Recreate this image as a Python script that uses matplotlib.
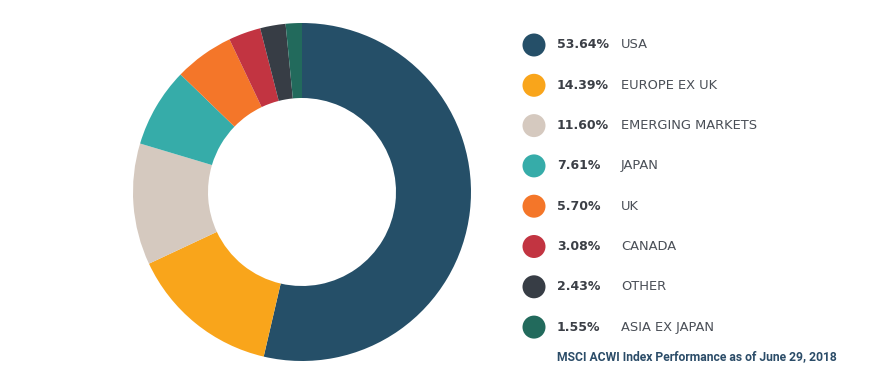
import matplotlib
matplotlib.use("Agg")
import matplotlib.pyplot as plt

categories = ["USA", "EUROPE EX UK", "EMERGING MARKETS", "JAPAN", "UK", "CANADA", "OTHER", "ASIA EX JAPAN"]
values = [53.64, 14.39, 11.60, 7.61, 5.70, 3.08, 2.43, 1.55]
colors = ["#254f68", "#f9a51b", "#d5c9bf", "#36aca9", "#f47629", "#c23441", "#373d45", "#226a5c"]
footnote = "MSCI ACWI Index Performance as of June 29, 2018"

W, H = 870, 386
fig = plt.figure(figsize=(W / 100, H / 100), dpi=100)
fig.patch.set_facecolor("white")

cx, cy, r = 302, 192, 169
ax = fig.add_axes([(cx - r) / W, (H - cy - r) / H, 2 * r / W, 2 * r / H])
ax.pie(values, colors=colors, startangle=90, counterclock=False,
       radius=1.0, wedgeprops=dict(width=1 - 94 / 169, edgecolor="none", linewidth=0))
ax.set_xlim(-1, 1)
ax.set_ylim(-1, 1)
ax.set_aspect("equal")
ax.axis("off")

# legend in pixel coordinates
lax = fig.add_axes([0, 0, 1, 1])
lax.set_xlim(0, W)
lax.set_ylim(H, 0)
lax.axis("off")
y0, dy = 45, 40.3
for i, (cat, val, col) in enumerate(zip(categories, values, colors)):
    y = y0 + i * dy
    lax.scatter([534], [y], s=(23 * 0.72) ** 2, color=col, edgecolors="none")
    lax.text(557, y, f"{val:.2f}%", fontsize=9, fontweight="bold", color="#3b3f46",
             va="center", ha="left", family="DejaVu Sans")
    lax.text(621, y, cat, fontsize=9.4, color="#4a4f57", va="center", ha="left",
             family="DejaVu Sans")
lax.text(557, 357, footnote, fontsize=8.7, fontweight="bold", color="#2b4c68",
         va="center", ha="left", family="Roboto")

fig.savefig("out.png", dpi=100, facecolor="white")
